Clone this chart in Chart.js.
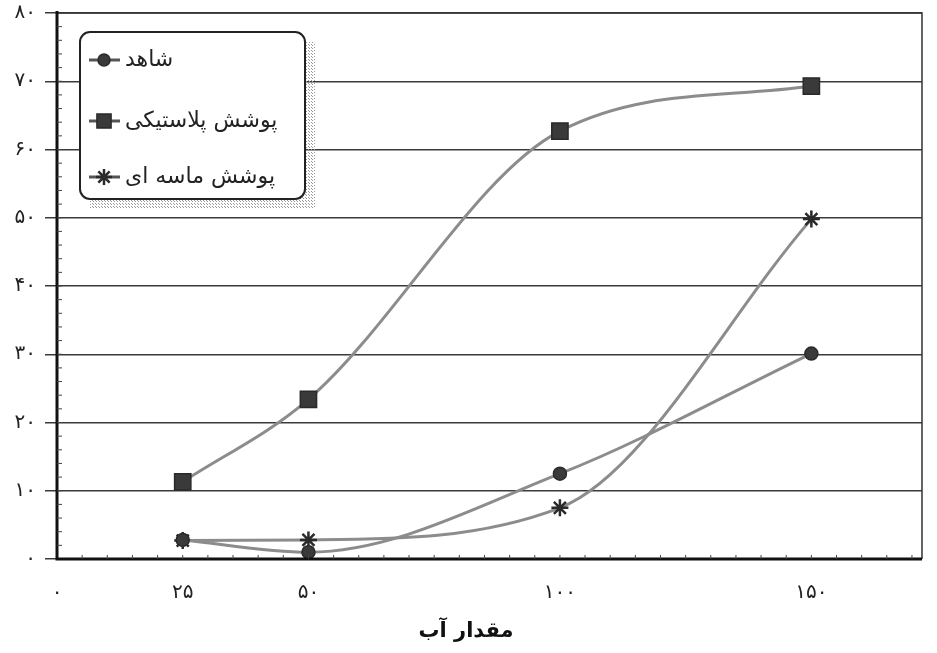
<!DOCTYPE html>
<html><head><meta charset="utf-8">
<script src="https://cdn.jsdelivr.net/npm/chart.js@4/dist/chart.umd.min.js"></script>
<style>html,body{margin:0;padding:0;background:#fff}#wrap{width:937px;height:653px}</style>
</head><body><div id="wrap"><canvas id="c" width="937" height="653"></canvas></div>
<script>
const seriesNames = ['شاهد', 'پوشش پلاستیکی', 'پوشش ماسه ای'];
const xValues = [25, 50, 100, 150];
const shahed = [2.8, 1.0, 12.5, 30.1];
const plastic = [11.3, 23.4, 62.7, 69.3];
const sand = [2.7, 2.8, 7.5, 49.8];
const xTicks = [0, 25, 50, 100, 150];
const yTicks = [0, 10, 20, 30, 40, 50, 60, 70, 80];
const xTitle = 'مقدار آب';

const fa = n => String(n).replace(/\d/g, d => '۰۱۲۳۴۵۶۷۸۹'[d]);
const FONT = '"DejaVu Sans", sans-serif';
const pts = arr => xValues.map((x, i) => ({x: x, y: arr[i]}));

const styles = [
  {pointStyle: 'circle', radius: 6.5},
  {pointStyle: 'rect', radius: 11.5},
  {pointStyle: 'star', radius: 8.5}
];
const datasets = [shahed, plastic, sand].map((arr, i) => ({
  label: seriesNames[i],
  data: pts(arr),
  borderColor: '#8c8c8c',
  borderWidth: 3,
  pointStyle: styles[i].pointStyle,
  pointRadius: styles[i].radius,
  pointBackgroundColor: '#3a3a3a',
  pointBorderColor: '#2a2a2a',
  pointBorderWidth: i === 2 ? 2.5 : 1.5,
  cubicInterpolationMode: 'monotone',
  fill: false
}));

const extras = {
  id: 'extras',
  afterDraw(chart) {
    const ctx = chart.ctx, a = chart.chartArea;
    const xs = chart.scales.x, ys = chart.scales.y;
    ctx.save();
    ctx.strokeStyle = '#333'; ctx.lineWidth = 1.5;
    ctx.beginPath(); ctx.moveTo(a.left, a.top); ctx.lineTo(a.right, a.top); ctx.lineTo(a.right, a.bottom); ctx.stroke();
    ctx.strokeStyle = '#111'; ctx.lineWidth = 3;
    ctx.beginPath(); ctx.moveTo(a.left, a.top - 2); ctx.lineTo(a.left, a.bottom); ctx.lineTo(a.right, a.bottom); ctx.stroke();
    ctx.strokeStyle = '#444'; ctx.lineWidth = 1;
    for (let v = 2; v < 80; v += 2) {
      const y = ys.getPixelForValue(v);
      ctx.beginPath(); ctx.moveTo(a.left, y); ctx.lineTo(a.left + 5, y); ctx.stroke();
    }
    for (let v = 5; v < xs.max; v += 5) {
      const x = xs.getPixelForValue(v);
      ctx.beginPath(); ctx.moveTo(x, a.bottom); ctx.lineTo(x, a.bottom - 4); ctx.stroke();
    }
    ctx.fillStyle = '#111'; ctx.font = 'bold 21px ' + FONT; ctx.textAlign = 'center'; ctx.textBaseline = 'middle';
    ctx.direction = 'rtl';
    ctx.fillText(xTitle, 466, 632);
    const L = 80, T = 32, W = 225, H = 167;
    const pc = document.createElement('canvas'); pc.width = 3; pc.height = 3;
    const p = pc.getContext('2d'); p.fillStyle = '#999'; p.fillRect(0, 0, 1, 1); p.fillRect(2, 2, 1, 1);
    ctx.fillStyle = ctx.createPattern(pc, 'repeat');
    ctx.fillRect(L + 10, T + 10, W, H);
    ctx.fillStyle = '#fff'; ctx.strokeStyle = '#222'; ctx.lineWidth = 2;
    ctx.beginPath(); ctx.roundRect(L, T, W, H, 10); ctx.fill(); ctx.stroke();
    const rows = [60, 121, 177];
    chart.data.datasets.forEach((ds, i) => {
      const y = rows[i];
      ctx.strokeStyle = '#555'; ctx.lineWidth = 3;
      ctx.beginPath(); ctx.moveTo(89, y); ctx.lineTo(120, y); ctx.stroke();
      ctx.fillStyle = '#3a3a3a'; ctx.strokeStyle = '#2a2a2a'; ctx.lineWidth = i === 2 ? 2.5 : 1.5;
      Chart.helpers.drawPoint(ctx, {pointStyle: ds.pointStyle, radius: [6, 10, 8][i], rotation: 0, borderWidth: ctx.lineWidth}, 104, y);
      ctx.fillStyle = '#222'; ctx.font = '22px ' + FONT; ctx.textBaseline = 'middle';
      ctx.direction = 'rtl'; ctx.textAlign = 'right';
      const w = ctx.measureText(ds.label).width;
      ctx.fillText(ds.label, 125 + w, y);
    });
    ctx.restore();
  }
};

new Chart(document.getElementById('c'), {
  type: 'line',
  data: {datasets},
  options: {
    responsive: false,
    animation: false,
    layout: {padding: {left: 0, right: 15, top: 12, bottom: 0}},
    plugins: {legend: {display: false}, tooltip: {enabled: false}},
    scales: {
      x: {
        type: 'linear', min: 0, max: 172,
        afterBuildTicks: s => { s.ticks = xTicks.map(v => ({value: v})); },
        afterFit: s => { s.height = 94; s.paddingLeft = 0; s.paddingRight = 0; },
        grid: {display: false, drawTicks: false},
        border: {display: false},
        ticks: {color: '#222', font: {size: 20, family: FONT}, padding: 22, maxRotation: 0, autoSkip: false,
                callback: v => fa(v)},
        title: {display: false}
      },
      y: {
        min: 0, max: 80,
        afterBuildTicks: s => { s.ticks = yTicks.map(v => ({value: v})); },
        afterFit: s => { s.width = 57; s.paddingTop = 0; s.paddingBottom = 0; },
        grid: {color: '#3a3a3a', lineWidth: 1.5, tickLength: 12, drawTicks: true},
        border: {display: false},
        ticks: {color: '#222', font: {size: 20, family: FONT}, padding: 9, callback: v => fa(v)}
      }
    }
  },
  plugins: [extras]
});
</script></body></html>
